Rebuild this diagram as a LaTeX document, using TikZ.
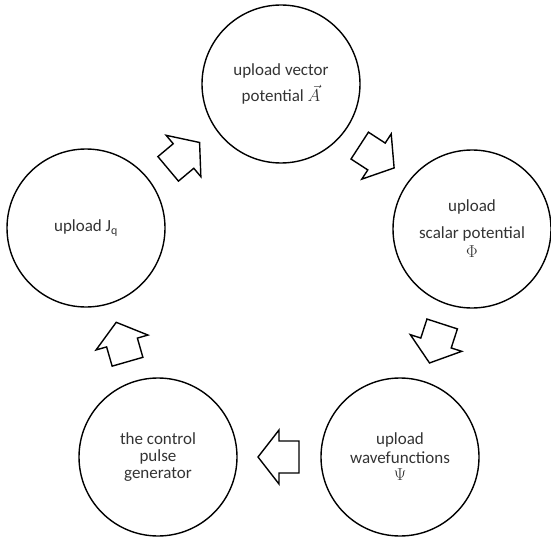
\documentclass[tikz,border=0pt]{standalone}
\usepackage{fontspec}
\setmainfont{Carlito}
\usetikzlibrary{calc}
\tikzset{
  circ/.style={draw, circle, line width=1.4pt, minimum size=158pt, inner sep=0pt,
    align=center, text=black!80, font=\fontsize{17}{17}\selectfont},
  blk/.style={draw, line width=1.4pt, fill=white, line join=miter, miter limit=10},
}
\newcommand\blockarrow[3]{%
  \begin{scope}[shift={($(#1.center)!0.5!(#2.center)$)}, rotate=#3]
    \draw[blk] (-20,-16) -- (0,-16) -- (0,-27) -- (21,0) -- (0,27) -- (0,16) -- (-20,16) -- cycle;
  \end{scope}}
\begin{document}
\begin{tikzpicture}[x=1pt,y=1pt]
\useasboundingbox (0,0) rectangle (551,-540);
\node[circ] (T) at (281,-84) {upload vector\\[6pt]potential $\vec{A}$};
\node[circ] (R) at (472,-229) {upload\\[10pt]scalar potential\\[2pt]$\Phi$};
\node[circ] (BR) at (400,-457) {upload\\[2pt]wavefunctions\\$\Psi$};
\node[circ] (BL) at (158,-457) {the control\\pulse\\generator};
\node[circ] (L) at (86,-228) {upload J\textsubscript{q}};
\blockarrow{L}{T}{40}
\blockarrow{T}{R}{-33}
\blockarrow{R}{BR}{-108}
\blockarrow{BR}{BL}{180}
\blockarrow{BL}{L}{106}
\end{tikzpicture}
\end{document}
